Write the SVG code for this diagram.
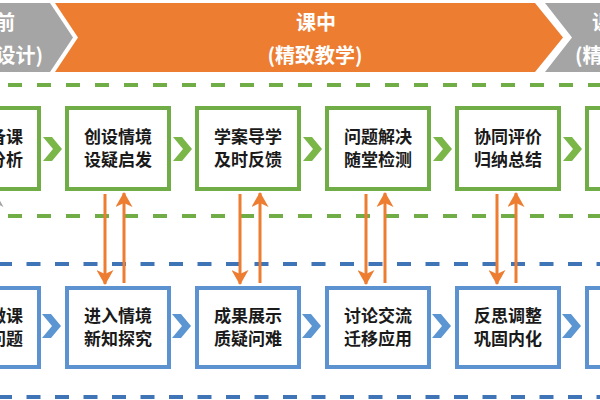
<svg xmlns="http://www.w3.org/2000/svg" width="600" height="400" viewBox="0 0 600 400">
<defs>
<style>
.bt{font-family:"Noto Sans CJK SC","Noto Sans",sans-serif;font-weight:bold;fill:#fff;font-size:20px}
.tx{font-family:"Noto Sans CJK SC","Noto Sans",sans-serif;font-weight:bold;fill:#1a1a1a;font-size:17px}
.gb{fill:#fff;stroke:#70ad47;stroke-width:4}
.bb{fill:#fff;stroke:#5b92cf;stroke-width:4}
.gd{stroke:#70ad47;stroke-width:4;stroke-dasharray:14 15;fill:none}
.bd{stroke:#3f75b7;stroke-width:4;stroke-dasharray:14 14.5;fill:none}
.gc{fill:#7ab648}
.bc{fill:#5b96d2}
.oa{stroke:#ed7d31;stroke-width:3;fill:none;marker-end:url(#ah)}
.ga{stroke:#a5a5a5;stroke-width:3;fill:none;marker-end:url(#ahg)}
</style>
<marker id="ah" viewBox="0 0 15 17" refX="14" refY="8.5" markerWidth="15" markerHeight="17" markerUnits="userSpaceOnUse" orient="auto">
<path d="M0,0 L15,8.5 L0,17 L4,8.5 Z" fill="#ed7d31"/>
</marker>
<marker id="ahg" viewBox="0 0 15 17" refX="14" refY="8.5" markerWidth="15" markerHeight="17" markerUnits="userSpaceOnUse" orient="auto">
<path d="M0,0 L15,8.5 L0,17 L4,8.5 Z" fill="#a5a5a5"/>
</marker>
</defs>
<rect width="600" height="400" fill="#fff"/>
<g id="banner">
<polygon points="-10,3 50,3 73,37.5 50,72 -10,72" fill="#a5a5a5"/>
<polygon points="55,3 535,3 563,37.5 535,72 55,72 78,37.5" fill="#ed7d31"/>
<polygon points="545,3 610,3 610,72 545,72 572,37.5" fill="#a5a5a5"/>
<text class="bt" x="15" y="30" text-anchor="end">前</text>
<text class="bt" x="43" y="63" text-anchor="end">设计)</text>
<text class="bt" x="316" y="30" text-anchor="middle">课中</text>
<text class="bt" x="315" y="63" text-anchor="middle">(精致教学)</text>
<text class="bt" x="592" y="30">课</text>
<text class="bt" x="575" y="63">(精</text>
</g>
<g id="lanes">
<line class="gd" x1="8" y1="85" x2="600" y2="85"/>
<line class="gd" x1="8" y1="216" x2="600" y2="216"/>
<line class="bd" x1="-2" y1="264" x2="600" y2="264"/>
<line class="bd" x1="-2" y1="397" x2="600" y2="397"/>
</g>
<g id="g1"><rect class="gb" x="-63" y="108" width="102" height="81"/><text class="tx" x="23" y="143" text-anchor="end">备课</text><text class="tx" x="23" y="166" text-anchor="end">分析</text></g>
<g id="g2"><rect class="gb" x="67" y="108" width="102" height="81"/><text class="tx" x="118" y="143" text-anchor="middle">创设情境</text><text class="tx" x="118" y="166" text-anchor="middle">设疑启发</text></g>
<g id="g3"><rect class="gb" x="197" y="108" width="102" height="81"/><text class="tx" x="248" y="143" text-anchor="middle">学案导学</text><text class="tx" x="248" y="166" text-anchor="middle">及时反馈</text></g>
<g id="g4"><rect class="gb" x="327" y="108" width="102" height="81"/><text class="tx" x="378" y="143" text-anchor="middle">问题解决</text><text class="tx" x="378" y="166" text-anchor="middle">随堂检测</text></g>
<g id="g5"><rect class="gb" x="457" y="108" width="102" height="81"/><text class="tx" x="508" y="143" text-anchor="middle">协同评价</text><text class="tx" x="508" y="166" text-anchor="middle">归纳总结</text></g>
<g id="g6"><rect class="gb" x="587" y="108" width="102" height="81"/></g>
<g id="b1"><rect class="bb" x="-63" y="288" width="102" height="79"/><text class="tx" x="23" y="322" text-anchor="end">微课</text><text class="tx" x="23" y="345" text-anchor="end">问题</text></g>
<g id="b2"><rect class="bb" x="67" y="288" width="102" height="79"/><text class="tx" x="118" y="322" text-anchor="middle">进入情境</text><text class="tx" x="118" y="345" text-anchor="middle">新知探究</text></g>
<g id="b3"><rect class="bb" x="197" y="288" width="102" height="79"/><text class="tx" x="248" y="322" text-anchor="middle">成果展示</text><text class="tx" x="248" y="345" text-anchor="middle">质疑问难</text></g>
<g id="b4"><rect class="bb" x="327" y="288" width="102" height="79"/><text class="tx" x="378" y="322" text-anchor="middle">讨论交流</text><text class="tx" x="378" y="345" text-anchor="middle">迁移应用</text></g>
<g id="b5"><rect class="bb" x="457" y="288" width="102" height="79"/><text class="tx" x="508" y="322" text-anchor="middle">反思调整</text><text class="tx" x="508" y="345" text-anchor="middle">巩固内化</text></g>
<g id="b6"><rect class="bb" x="587" y="288" width="102" height="79"/></g>
<g id="connectors">
<g id="chevrons">
<polygon class="gc" points="43,137 52,137 62,149 52,161 43,161 53,149"/>
<polygon class="gc" points="173,137 182,137 192,149 182,161 173,161 183,149"/>
<polygon class="gc" points="303,137 312,137 322,149 312,161 303,161 313,149"/>
<polygon class="gc" points="433,137 442,137 452,149 442,161 433,161 443,149"/>
<polygon class="gc" points="563,137 572,137 582,149 572,161 563,161 573,149"/>
<polygon class="bc" points="42,314 51,314 61,326 51,338 42,338 52,326"/>
<polygon class="bc" points="172,314 181,314 191,326 181,338 172,338 182,326"/>
<polygon class="bc" points="302,314 311,314 321,326 311,338 302,338 312,326"/>
<polygon class="bc" points="432,314 441,314 451,326 441,338 432,338 442,326"/>
<polygon class="bc" points="562,314 571,314 581,326 571,338 562,338 572,326"/>
</g>
<line class="ga" x1="-5" y1="283" x2="-5" y2="193"/>
<line class="oa" x1="105" y1="194" x2="105" y2="284"/>
<line class="oa" x1="124" y1="283" x2="124" y2="193"/>
<line class="oa" x1="240" y1="194" x2="240" y2="284"/>
<line class="oa" x1="260" y1="283" x2="260" y2="193"/>
<line class="oa" x1="366" y1="194" x2="366" y2="284"/>
<line class="oa" x1="385" y1="283" x2="385" y2="193"/>
<line class="oa" x1="497" y1="194" x2="497" y2="284"/>
<line class="oa" x1="516" y1="283" x2="516" y2="193"/>
</g>
</svg>
